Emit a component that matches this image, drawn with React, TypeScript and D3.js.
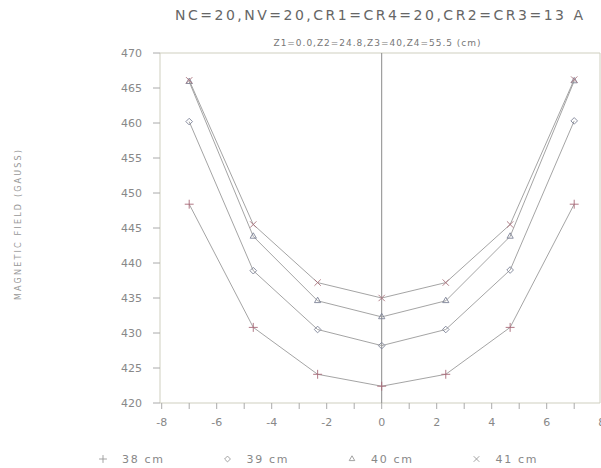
import React from 'react'
import * as d3 from 'd3'

// measurement positions along the axis
const positions = [-7, -4.67, -2.33, 0, 2.33, 4.67, 7]

const field38 = [448.4, 430.8, 424.1, 422.4, 424.1, 430.8, 448.4]
const field39 = [460.2, 438.9, 430.5, 428.2, 430.5, 439.0, 460.3]
const field40 = [465.9, 443.8, 434.6, 432.3, 434.6, 443.8, 466.0]
const field41 = [466.1, 445.5, 437.2, 435.0, 437.2, 445.5, 466.2]

const seriesNames = ['38 cm', '39 cm', '40 cm', '41 cm']
const yTicks = [420, 425, 430, 435, 440, 445, 450, 455, 460, 465, 470]
const xTicks = [-8, -7, -6, -5, -4, -3, -2, -1, 0, 1, 2, 3, 4, 5, 6, 7, 8]

const title = 'NC=20,NV=20,CR1=CR4=20,CR2=CR3=13 A'
const subtitle = 'Z1=0.0,Z2=24.8,Z3=40,Z4=55.5 (cm)'
const yLabel = 'MAGNETIC FIELD (GAUSS)'

const symbols = [d3.symbolPlus, d3.symbolDiamond2, d3.symbolTriangle2, d3.symbolTimes]
const markerColors = ['#a86a78', '#7d8296', '#7d8296', '#a8707a']

export default function App() {
	const width = 601
	const height = 468
	const left = 160, right = 600, top = 53, bottom = 403

	const x = d3.scaleLinear().domain([-8, 8]).range([left + 1.7, 601.7])
	const y = d3.scaleLinear().domain([420, 470]).range([bottom, top])

	const series = [field38, field39, field40, field41]
	const line = d3.line<number>()
		.x((d, i) => x(positions[i]))
		.y(d => y(d))

	const font = 'DejaVu Sans, sans-serif'
	const frame = '#cfcfbf'

	return (
		<svg width={width} height={height} style={{position: 'absolute', left: 0, top: 0}}>
			<rect width={width} height={height} fill="#fff"/>
			<text x={379} y={19.5} textAnchor="middle" fontFamily={font} fontSize={14}
				fill="#666" textLength={408} lengthAdjust="spacing">{title}</text>
			<text x={377} y={46} textAnchor="middle" fontFamily={font} fontSize={9}
				fill="#777" textLength={207} lengthAdjust="spacing">{subtitle}</text>
			<text transform={`translate(21,225) rotate(-90)`} textAnchor="middle" fontFamily={font}
				fontSize={8} fill="#999" textLength={150} lengthAdjust="spacing">{yLabel}</text>

			{/* frame */}
			<line x1={left} x2={right} y1={top} y2={top} stroke={frame}/>
			<line x1={left} x2={right} y1={bottom} y2={bottom} stroke={frame}/>
			<line x1={left} x2={left} y1={top} y2={bottom} stroke={frame}/>
			<line x1={right} x2={right} y1={top} y2={bottom} stroke={frame}/>
			<line x1={x(0)} x2={x(0)} y1={top} y2={bottom} stroke="#8a8a8a"/>

			{yTicks.map(t => (
				<g key={`y-${t}`}>
					<line x1={left - 7} x2={left} y1={y(t)} y2={y(t)} stroke="#aaa"/>
					<text x={142} y={y(t) + 4} textAnchor="end" fontFamily={font} fontSize={11}
						fill="#888">{t}</text>
				</g>
			))}
			{xTicks.map(t => (
				<g key={`x-${t}`}>
					<line x1={x(t)} x2={x(t)} y1={bottom} y2={bottom + 6} stroke="#aaa"/>
					{t % 2 === 0 ?
						<text x={x(t)} y={426} textAnchor="middle" fontFamily={font} fontSize={11}
							fill="#888">{t}</text>
						: null}
				</g>
			))}

			{series.map((s, i) => (
				<g key={`s-${i}`}>
					<path d={line(s) || ''} fill="none" stroke="#9a9a9a" strokeWidth={0.9}/>
					{s.map((v, j) => (
						<path key={`m-${j}`}
							transform={`translate(${x(positions[j])},${y(v)})`}
							d={d3.symbol(symbols[i], 28)() || ''}
							fill="none" stroke={markerColors[i]} strokeWidth={0.9}/>
					))}
				</g>
			))}

			{seriesNames.map((name, i) => (
				<g key={`l-${i}`} transform={`translate(${103 + i * 124.5},459)`}>
					<path d={d3.symbol(symbols[i], 22)() || ''} fill="none" stroke="#999" strokeWidth={0.9}/>
					<text x={19} y={4} fontFamily={font} fontSize={11} fill="#888"
						textLength={41} lengthAdjust="spacing">{name}</text>
				</g>
			))}
		</svg>
	)
}
